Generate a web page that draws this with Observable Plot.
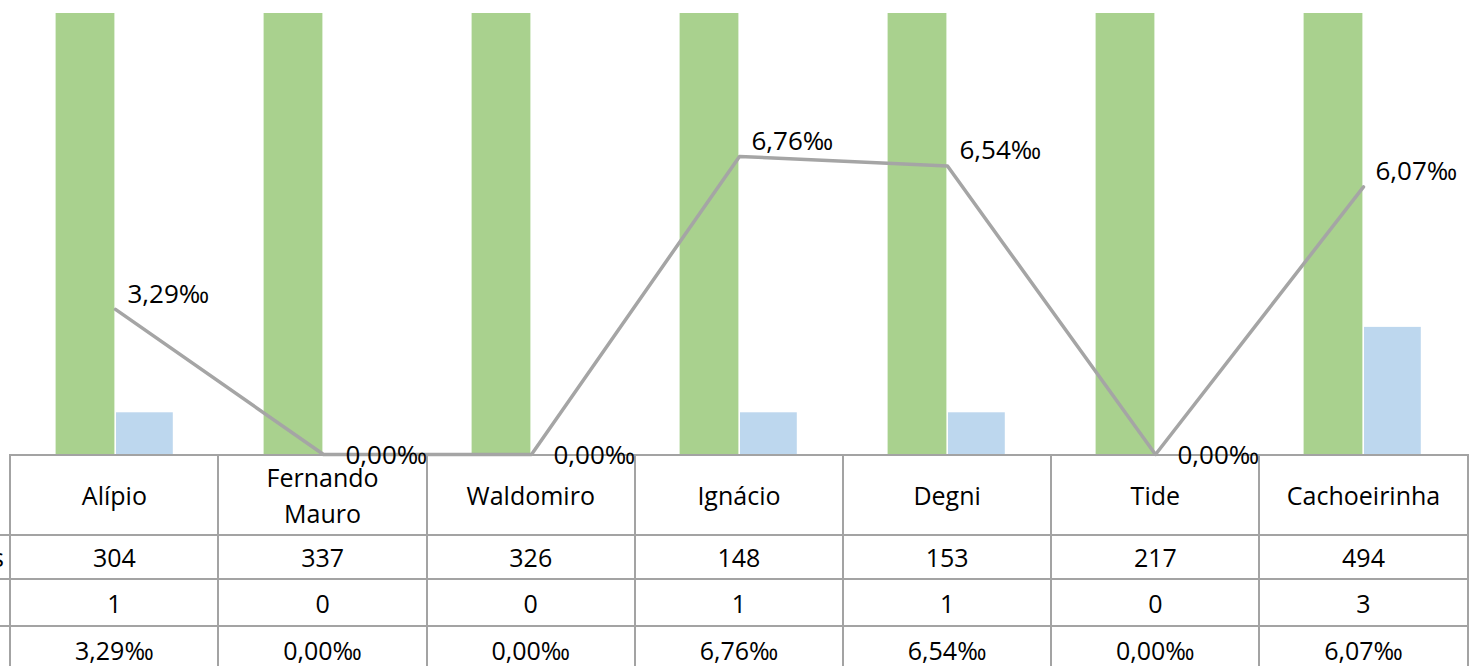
<!DOCTYPE html>
<html>
<head>
<meta charset="utf-8">
<script src="https://cdn.jsdelivr.net/npm/d3@7"></script>
<script src="https://cdn.jsdelivr.net/npm/@observablehq/plot@0.6"></script>
<style>
  html, body { margin: 0; padding: 0; background: #fff; }
  body { width: 1471px; height: 666px; overflow: hidden; position: relative; font-family: "Open Sans", sans-serif; }
  #bars, #line { position: absolute; left: 0; top: 0; }
  #bars { z-index: 1; }
  #line { z-index: 3; }
  #tbl { position: absolute; left: 0; top: 454px; z-index: 2; border-collapse: collapse; table-layout: fixed; font-size: 25px; color: #000; }
  #tbl td { border: 2px solid #a3a3a3; text-align: center; padding: 0 12px; white-space: nowrap; }
  #tbl tr.head td { height: 78px; white-space: normal; line-height: 36px; }
  #tbl tr.r2 td { height: 42px; }
  #tbl tr.r3 td { height: 45px; }
  #tbl tr.r4 td { height: 45px; }
  #tbl td.stub { border-left: none; padding: 0; }
  #tbl tr.head td.stub { border-top: none; }
  #stublabel { position: absolute; left: -10px; top: 536px; width: 14px; text-align: right; font-size: 25px; line-height: 42px; z-index: 2; }
  svg { overflow: visible; background: transparent; }
</style>
</head>
<body>
<div id="bars"></div>
<div id="line"></div>
<div id="stublabel">s</div>
<table id="tbl"></table>
<script>
const categories = ["Alípio", "Fernando Mauro", "Waldomiro", "Ignácio", "Degni", "Tide", "Cachoeirinha"];
const births = [304, 337, 326, 148, 153, 217, 494];
const deaths = [1, 0, 0, 1, 1, 0, 3];
const rates = [3.29, 0.00, 0.00, 6.76, 6.54, 0.00, 6.07];

const fmtRate = v => v.toFixed(2).replace(".", ",") + "‰";
const data = categories.map((c, i) => ({cat: c, births: births[i], deaths: deaths[i], rate: rates[i]}));

const W = 1471;
const left = 10.3, right = 1467.7;

const bars = Plot.plot({
  width: W,
  height: 455,
  marginTop: 13,
  marginBottom: 0,
  marginLeft: left,
  marginRight: W - right,
  x: {type: "band", domain: categories, padding: 0, axis: null},
  y: {domain: [0, 10.35], axis: null},
  marks: [
    Plot.barY(data, {x: "cat", y: "births", fill: "#A9D18E", insetLeft: 44.6, insetRight: 104.6, clip: true}),
    Plot.barY(data, {x: "cat", y: "deaths", fill: "#BDD7EE", insetLeft: 105, insetRight: 46.2, clip: true})
  ]
});
document.getElementById("bars").appendChild(bars);

const line = Plot.plot({
  width: W,
  height: 490,
  marginTop: 13,
  marginBottom: 490 - 454,
  marginLeft: left,
  marginRight: W - right,
  x: {type: "point", domain: categories, padding: 0.5, axis: null},
  y: {domain: [0, 10], axis: null},
  style: {fontFamily: "'Open Sans', sans-serif"},
  marks: [
    Plot.line(data, {x: "cat", y: "rate", stroke: "#A5A5A5", strokeWidth: 3.5}),
    Plot.text(data.filter(d => d.rate > 0), {x: "cat", y: "rate", text: d => fmtRate(d.rate), textAnchor: "start", dx: 12, dy: -15, fontSize: 26, fill: "#000"}),
    Plot.text(data.filter(d => d.rate === 0), {x: "cat", y: "rate", text: d => fmtRate(d.rate), textAnchor: "start", dx: 22, dy: 1, fontSize: 26, fill: "#000"})
  ]
});
document.getElementById("line").appendChild(line);

// data table under the chart
const colW = (right - left) / categories.length;
const tbl = document.getElementById("tbl");
tbl.style.width = (right) + "px";
const colgroup = document.createElement("colgroup");
const stubCol = document.createElement("col");
stubCol.style.width = left + "px";
colgroup.appendChild(stubCol);
categories.forEach(() => { const c = document.createElement("col"); c.style.width = colW + "px"; colgroup.appendChild(c); });
tbl.appendChild(colgroup);

const rows = [
  {cls: "head", vals: categories},
  {cls: "r2", vals: births.map(String)},
  {cls: "r3", vals: deaths.map(String)},
  {cls: "r4", vals: rates.map(fmtRate)}
];
rows.forEach(r => {
  const tr = document.createElement("tr");
  tr.className = r.cls;
  const stub = document.createElement("td");
  stub.className = "stub";
  tr.appendChild(stub);
  r.vals.forEach(v => { const td = document.createElement("td"); td.textContent = v; tr.appendChild(td); });
  tbl.appendChild(tr);
});
</script>
</body>
</html>
